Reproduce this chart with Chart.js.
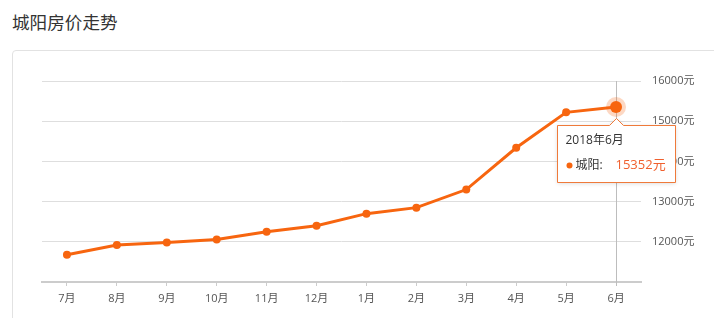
<!DOCTYPE html>
<html>
<head>
<meta charset="utf-8">
<script src="https://cdn.jsdelivr.net/npm/chart.js@4"></script>
<style>
    body { margin: 0; background: #fff; width: 714px; height: 318px; overflow: hidden; position: relative; font-family: "Noto Sans CJK SC", sans-serif; }
    #title { position: absolute; left: 12px; top: 9px; font-size: 17.6px; color: #333; }
    #panel { position: absolute; left: 12px; top: 50px; width: 730px; height: 300px; border: 1px solid #e2e2e2; border-radius: 4px; }
    #wrap { position: absolute; left: 0; top: 0; width: 714px; height: 318px; }
</style>
</head>
<body>
<div id="title">城阳房价走势</div>
<div id="panel"></div>
<div id="wrap"><canvas id="cvs"></canvas></div>
<script>
// data
const months = ['7月', '8月', '9月', '10月', '11月', '12月', '1月', '2月', '3月', '4月', '5月', '6月'];
const prices = [11680, 11920, 11980, 12060, 12250, 12400, 12700, 12850, 13300, 14340, 15220, 15352];
const yTicks = [12000, 13000, 14000, 15000, 16000];
const hoverIndex = 11;
const hoverTitle = '2018年6月';
const seriesName = '城阳';

const orange = '#f7650f';
const font = '"Open Sans", "Noto Sans CJK SC", sans-serif';

/*==========| crosshair + tooltip |========== */
const hoverPlugin = {
    id: 'hover',
    beforeDatasetsDraw(chart) {
        const ctx = chart.ctx;
        const x = chart.scales.x.getPixelForValue(hoverIndex);
        ctx.save();
        ctx.strokeStyle = '#bdbdbd';
        ctx.lineWidth = 1;
        ctx.beginPath();
        ctx.moveTo(Math.round(x) + 0.5, chart.chartArea.top);
        ctx.lineTo(Math.round(x) + 0.5, chart.chartArea.bottom + 4);
        ctx.stroke();
        ctx.restore();
    },
    afterDraw(chart) {
        const ctx = chart.ctx;
        const x = chart.scales.x.getPixelForValue(hoverIndex);
        const y = chart.scales.y.getPixelForValue(prices[hoverIndex]);
        // big point with halo
        ctx.save();
        ctx.fillStyle = 'rgba(247,101,15,0.25)';
        ctx.beginPath(); ctx.arc(x, y, 10, 0, Math.PI * 2); ctx.fill();
        ctx.fillStyle = orange;
        ctx.beginPath(); ctx.arc(x, y, 6, 0, Math.PI * 2); ctx.fill();

        // box
        const bx = Math.round(x) - 58.5, by = Math.round(y) + 18.5, bw = 118, bh = 57;
        ctx.shadowColor = 'rgba(0,0,0,0.15)';
        ctx.shadowBlur = 4;
        ctx.shadowOffsetY = 1;
        ctx.fillStyle = '#fff';
        ctx.strokeStyle = '#ef7a3a';
        ctx.lineWidth = 1;
        ctx.beginPath();
        ctx.moveTo(bx, by);
        ctx.lineTo(Math.round(x) + 0.5 - 7, by);
        ctx.lineTo(Math.round(x) + 0.5, by - 7);
        ctx.lineTo(Math.round(x) + 0.5 + 7, by);
        ctx.lineTo(bx + bw, by);
        ctx.lineTo(bx + bw, by + bh);
        ctx.lineTo(bx, by + bh);
        ctx.closePath();
        ctx.fill();
        ctx.shadowColor = 'transparent';
        ctx.stroke();

        ctx.textBaseline = 'middle';
        ctx.fillStyle = '#333';
        ctx.font = '12px ' + font;
        ctx.fillText(hoverTitle, bx + 8, by + 15);
        ctx.fillStyle = orange;
        ctx.beginPath(); ctx.arc(bx + 12, by + 40, 3, 0, Math.PI * 2); ctx.fill();
        ctx.fillStyle = '#333';
        ctx.fillText(seriesName + ':', bx + 18, by + 40);
        ctx.fillStyle = '#f0602e';
        ctx.font = '13px ' + font;
        ctx.fillText(prices[hoverIndex] + '元', bx + 58, by + 40);
        ctx.restore();
    }
};

let chart = new Chart(document.getElementById('cvs'), {
    type: 'line',
    data: {
        labels: months,
        datasets: [{
            data: prices,
            borderColor: orange,
            backgroundColor: orange,
            borderWidth: 3,
            pointRadius: 4,
            pointBackgroundColor: orange,
            pointBorderWidth: 0,
            tension: 0
        }]
    },
    options: {
        responsive: true,
        maintainAspectRatio: false,
        animation: false,
        events: [],
        layout: { padding: { left: 42, top: 81, right: 0, bottom: 0 } },
        plugins: { legend: { display: false }, tooltip: { enabled: false } },
        scales: {
            x: {
                offset: true,
                afterFit: s => { s.height = 36; },
                grid: { offset: false, drawOnChartArea: false, drawTicks: true, tickLength: 4, color: '#ccc' },
                border: { color: '#ccc', width: 2 },
                ticks: { color: '#555', font: { family: font, size: 11 }, padding: 6, maxRotation: 0 }
            },
            y: {
                position: 'right',
                min: 11000,
                max: 16000,
                afterFit: s => { s.width = 73; },
                afterBuildTicks: s => { s.ticks = [11000].concat(yTicks).map(v => ({ value: v })); },
                grid: { color: '#dedede', drawTicks: false },
                border: { display: false },
                ticks: {
                    color: '#555',
                    padding: 11,
                    font: { family: font, size: 11 },
                    callback: v => yTicks.includes(v) ? v + '元' : ''
                }
            }
        }
    },
    plugins: [hoverPlugin]
});
</script>
</body>
</html>
